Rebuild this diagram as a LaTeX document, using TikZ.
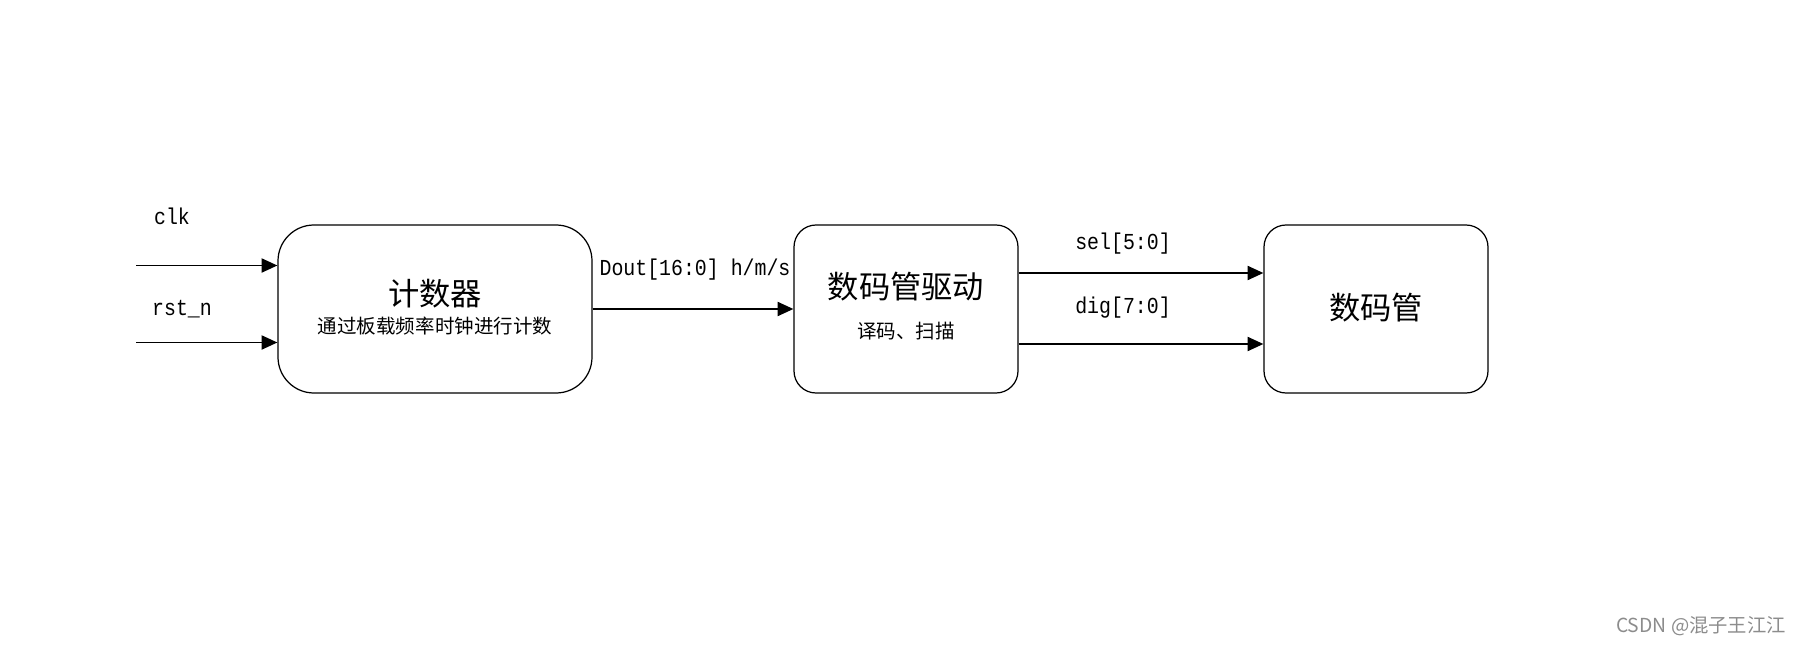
\documentclass[tikz,border=0pt]{standalone}
\usepackage{fontspec}
\setmainfont{Noto Sans CJK SC}
\newfontfamily\sigfont[FakeStretch=0.87]{Liberation Mono}
\usetikzlibrary{arrows.meta}

\tikzset{
  blokk/.style={draw, line width=0.7pt, minimum height=3.36cm},
  sig/.style={line width=1.1pt, -{Triangle[length=9pt, width=8pt]}},
  signavn/.style={font=\sigfont\fontsize{13}{15}\selectfont},
  tittel/.style={font=\fontsize{17.8}{20}\selectfont},
  undertekst/.style={font=\fontsize{11.1}{13}\selectfont}
}

\begin{document}
\begin{tikzpicture}
           \useasboundingbox (0, 0) rectangle (36.04, 12.92);

           % Blokk teller
           \node[blokk, rounded corners=0.72cm, minimum width=6.28cm] (cnt) at (8.70, 6.74) {};
           \node[tittel] (cnttitle) at (8.70, 7.04) {计数器};
           \node[undertekst] (cntsub) at (8.70, 6.40) {通过板载频率时钟进行计数};

           % Blokk driver
           \node[blokk, rounded corners=0.44cm, minimum width=4.48cm] (drv) at (18.12, 6.74) {};
           \node[tittel] (drvtitle) at (18.12, 7.18) {数码管驱动};
           \node[undertekst] (drvsub) at (18.12, 6.30) {译码、扫描};

           % Blokk display
           \node[blokk, rounded corners=0.44cm, minimum width=4.48cm] (seg) at (27.52, 6.74) {};
           \node[tittel] (segtitle) at (27.52, 6.76) {数码管};

           % Innganger
           \coordinate (clkin) at (2.72, 7.61);
           \coordinate (rstin) at (2.72, 6.07);
           \draw[sig] (clkin) -- (cnt.west |- clkin);
           \draw[sig] (rstin) -- (cnt.west |- rstin);
           \node[signavn] (clk) at (3.44, 8.60) {clk};
           \node[signavn] (rst) at (3.64, 6.74) {rst\_n};

           % Teller til driver
           \draw[sig] (cnt.east) -- (drv.west);
           \node[signavn] (dout) at (13.90, 7.52) {Dout[16:0] h/m/s};

           % Driver til display
           \draw[sig] ([yshift=0.72cm]drv.east) -- ([yshift=0.72cm]seg.west);
           \draw[sig] ([yshift=-0.70cm]drv.east) -- ([yshift=-0.70cm]seg.west);
           \node[signavn] (sel) at (22.46, 8.04) {sel[5:0]};
           \node[signavn] (dig) at (22.46, 6.76) {dig[7:0]};

           % Vannmerke
           \node[font=\fontsize{11}{13}\selectfont, text=black!45] (wm) at (34.02, 0.40) {CSDN @混子王江江};
         \end{tikzpicture}
\end{document}
